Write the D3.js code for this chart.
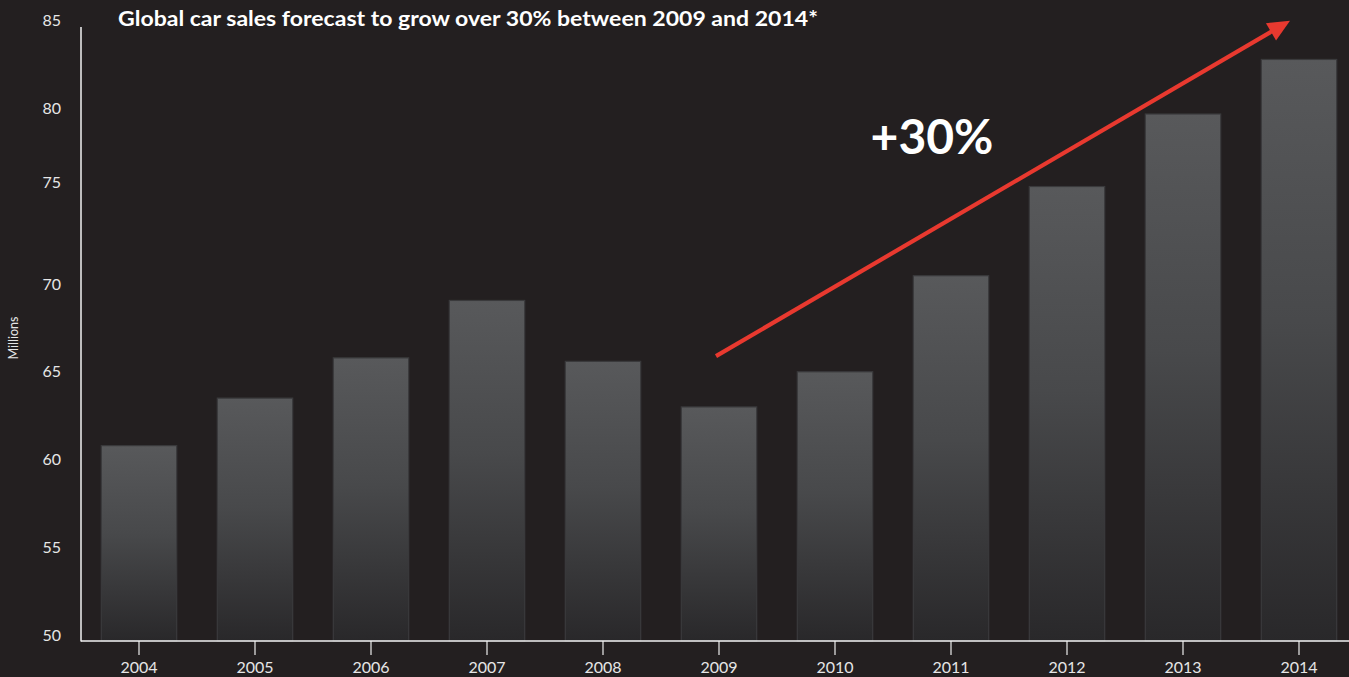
<!DOCTYPE html>
<html>
<head>
<meta charset="utf-8">
<script src="https://cdn.jsdelivr.net/npm/d3@7"></script>
<style>
  html, body { margin: 0; padding: 0; background: #231f20; }
  svg { display: block; }
</style>
</head>
<body>
<svg id="chart" width="1349" height="677"></svg>
<script>
const years = ["2004","2005","2006","2007","2008","2009","2010","2011","2012","2013","2014"];
const sales = [61.1, 63.8, 66.1, 69.4, 65.9, 63.3, 65.3, 70.7, 75.1, 80.0, 83.1];
const yTicks = [50, 55, 60, 65, 70, 75, 80, 85];
const titleText = "Global car sales forecast to grow over 30% between 2009 and 2014*";
const yLabel = "Millions";
const growthLabel = "+30%";
const arrowFrom = { year: "2009", value: 66.2 };
const arrowTo = { year: "2014", value: 85.3 };

const svg = d3.select("#chart");
const W = 1349, H = 677;
const left = 81, bottom = 641;

const x = d3.scaleBand().domain(years).range([left, left + 116 * years.length]).paddingInner(0.35).paddingOuter(0.175);
// value axis (tick positions as drawn in the original)
const y = d3.scaleLinear().domain(yTicks).range([641, 553, 465, 377, 290, 188, 114, 26]);

const defs = svg.append("defs");
const grad = defs.append("linearGradient").attr("id", "barGrad").attr("x1", 0).attr("y1", 0).attr("x2", 0).attr("y2", 1);
grad.append("stop").attr("offset", "0%").attr("stop-color", "#58595b");
grad.append("stop").attr("offset", "45%").attr("stop-color", "#48494b");
grad.append("stop").attr("offset", "100%").attr("stop-color", "#29282a");

// bars
svg.append("g").selectAll("rect").data(years).join("rect")
  .attr("x", d => x(d))
  .attr("y", (d, i) => y(sales[i]))
  .attr("width", x.bandwidth())
  .attr("height", (d, i) => bottom - y(sales[i]))
  .attr("fill", "url(#barGrad)")
  .attr("stroke", "#3a3a3c")
  .attr("stroke-width", 1.2);

// y axis labels
const yAxis = d3.axisLeft(y).tickValues(yTicks).tickSize(0).tickPadding(20);
const gy = svg.append("g").attr("transform", `translate(${left},0)`).call(yAxis);
gy.select(".domain").remove();
gy.selectAll("text").attr("fill", "#e6e6e6").attr("font-size", 16)
  .attr("font-family", "Lato, 'DejaVu Sans', sans-serif").attr("dy", "-0.05em");
svg.append("line").attr("x1", left).attr("x2", left).attr("y1", 27).attr("y2", bottom + 0.5)
  .attr("stroke", "#f2f2f2").attr("stroke-width", 1.5);

// x axis
const xAxis = d3.axisBottom(x).tickSize(14).tickPadding(7).tickSizeOuter(0);
const gx = svg.append("g").attr("transform", `translate(0,${bottom})`).call(xAxis);
gx.select(".domain").remove();
gx.selectAll(".tick line").attr("stroke", "#dddddd").attr("stroke-width", 1.3);
gx.selectAll("text").attr("fill", "#e6e6e6").attr("font-size", 16)
  .attr("font-family", "Lato, 'DejaVu Sans', sans-serif");
svg.append("line").attr("x1", left).attr("x2", W).attr("y1", bottom).attr("y2", bottom)
  .attr("stroke", "#f2f2f2").attr("stroke-width", 1.5);

// y axis title
svg.append("text").attr("transform", `translate(18,${338}) rotate(-90)`)
  .attr("text-anchor", "middle").attr("fill", "#e6e6e6").attr("font-size", 12.5)
  .attr("font-family", "Lato, 'DejaVu Sans', sans-serif").text(yLabel);

// title
svg.append("text").attr("x", 118).attr("y", 26).attr("fill", "#ffffff")
  .attr("font-size", 20).attr("font-weight", "bold")
  .attr("font-family", "Lato, 'DejaVu Sans', sans-serif")
  .attr("textLength", 700).attr("lengthAdjust", "spacingAndGlyphs")
  .text(titleText);

// arrow
const cx = d => x(d) + x.bandwidth() / 2;
const x0 = cx(arrowFrom.year) - 3, y0 = y(arrowFrom.value);
const x1 = cx(arrowTo.year) - 9, y1 = y(arrowTo.value);
const ang = Math.atan2(y1 - y0, x1 - x0);
const headLen = 22, headW = 10;
const bx = x1 - headLen * Math.cos(ang), by = y1 - headLen * Math.sin(ang);
svg.append("line").attr("x1", x0).attr("y1", y0).attr("x2", bx + 2 * Math.cos(ang)).attr("y2", by + 2 * Math.sin(ang))
  .attr("stroke", "#e8392f").attr("stroke-width", 4.2);
svg.append("path")
  .attr("d", `M${x1},${y1} L${bx + headW * Math.sin(ang)},${by - headW * Math.cos(ang)} L${bx - headW * Math.sin(ang)},${by + headW * Math.cos(ang)} Z`)
  .attr("fill", "#e8392f");

// growth label
svg.append("text").attr("x", 932).attr("y", 154).attr("text-anchor", "middle")
  .attr("fill", "#ffffff").attr("font-size", 48).attr("font-weight", "bold")
  .attr("font-family", "Lato, 'DejaVu Sans', sans-serif")
  .text(growthLabel);
</script>
</body>
</html>
